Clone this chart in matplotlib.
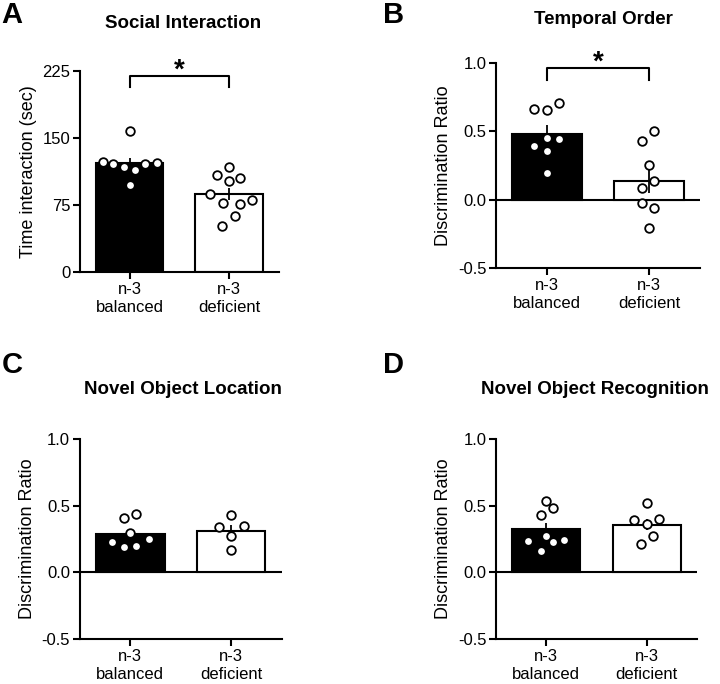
import matplotlib
matplotlib.use("Agg")
import matplotlib.pyplot as plt
import numpy as np

plt.rcParams['font.family'] = ['Liberation Sans', 'DejaVu Sans']

groups = ["n-3\nbalanced", "n-3\ndeficient"]

# A: social interaction time (sec)
si_bal = [123, 121, 117.5, 114, 121, 122, 157.5, 98]
si_def = [109, 117.5, 105, 102, 88, 78, 76, 81, 63, 52]
# B: temporal order discrimination ratio
to_bal = [0.666, 0.659, 0.707, 0.451, 0.395, 0.446, 0.359, 0.195]
to_def = [0.427, 0.505, 0.251, 0.139, 0.083, -0.024, -0.059, -0.21]
# C: novel object location
nol_bal = [0.405, 0.437, 0.298, 0.228, 0.248, 0.188, 0.198]
nol_def = [0.43, 0.338, 0.35, 0.273, 0.168]
# D: novel object recognition
nor_bal = [0.538, 0.483, 0.43, 0.275, 0.238, 0.243, 0.23, 0.16]
nor_def = [0.518, 0.393, 0.40, 0.363, 0.273, 0.21]

# horizontal scatter offsets of the dots
si_bal_dx = [-0.27, -0.165, -0.056, 0.056, 0.158, 0.274, 0, 0]
si_def_dx = [-0.125, 0, 0.116, 0, -0.188, -0.06, 0.11, 0.23, 0.056, -0.067]
to_bal_dx = [-0.123, 0, 0.12, 0, -0.123, 0.12, 0, 0]
to_def_dx = [-0.071, 0.048, 0, 0.048, -0.065, -0.065, 0.048, 0]
nol_bal_dx = [-0.063, 0.056, 0, -0.18, 0.183, -0.063, 0.056]
nol_def_dx = [0, -0.12, 0.126, 0, 0]
nor_bal_dx = [0, 0.066, -0.056, 0, -0.178, 0.18, 0.066, -0.056]
nor_def_dx = [0, -0.125, 0.125, 0, 0.06, -0.06]

panels = [
    dict(letter="A", title="Social Interaction", bal=si_bal, dfc=si_def,
         bdx=si_bal_dx, ddx=si_def_dx, ylim=(0, 225), yticks=[0, 75, 150, 225],
         ylabel="Time interaction (sec)", sig=(219, 207),
         rect=[0.111, 0.602, 0.276, 0.294], title_xy=(0.254, 0.966),
         letter_xy=(0.002, 0.978)),
    dict(letter="B", title="Temporal Order", bal=to_bal, dfc=to_def,
         bdx=to_bal_dx, ddx=to_def_dx, ylim=(-0.5, 1.0), yticks=[-0.5, 0, 0.5, 1.0],
         ylabel="Discrimination Ratio", sig=(0.963, 0.878),
         rect=[0.689, 0.608, 0.283, 0.2997], title_xy=(0.838, 0.972),
         letter_xy=(0.532, 0.978)),
    dict(letter="C", title="Novel Object Location", bal=nol_bal, dfc=nol_def,
         bdx=nol_bal_dx, ddx=nol_def_dx, ylim=(-0.5, 1.0), yticks=[-0.5, 0, 0.5, 1.0],
         ylabel="Discrimination Ratio", sig=None,
         rect=[0.111, 0.0658, 0.28, 0.292], title_xy=(0.254, 0.43),
         letter_xy=(0.002, 0.466)),
    dict(letter="D", title="Novel Object Recognition", bal=nor_bal, dfc=nor_def,
         bdx=nor_bal_dx, ddx=nor_def_dx, ylim=(-0.5, 1.0), yticks=[-0.5, 0, 0.5, 1.0],
         ylabel="Discrimination Ratio", sig=None,
         rect=[0.689, 0.0658, 0.279, 0.292], title_xy=(0.826, 0.43),
         letter_xy=(0.532, 0.466)),
]

fig = plt.figure(figsize=(7.2, 6.84), dpi=100)

for p in panels:
    ax = fig.add_axes(p["rect"])
    data = [np.array(p["bal"]), np.array(p["dfc"])]
    means = [d.mean() for d in data]
    sems = [d.std(ddof=1) / np.sqrt(len(d)) for d in data]
    x = np.arange(2)
    ax.bar(x, means, width=0.68, color=["black", "white"], edgecolor="black",
           linewidth=1.5, zorder=2)
    ax.errorbar(x, means, yerr=sems, fmt="none", ecolor="black", elinewidth=1.3,
                capsize=0, zorder=3)
    for i, (d, dx) in enumerate(zip(data, [p["bdx"], p["ddx"]])):
        ax.plot(i + np.array(dx), d, "o", ms=6.2, mfc="white", mec="black",
                mew=1.3, zorder=4, clip_on=False)
    if p["ylim"][0] < 0:
        ax.axhline(0, color="black", lw=1.5, zorder=1)
    if p["sig"] is not None:
        top, leg = p["sig"]
        ax.plot([0, 0, 1, 1], [leg, top, top, leg], color="black", lw=1.5,
                clip_on=False)
        span = p["ylim"][1] - p["ylim"][0]
        ax.text(0.5, top - span * 0.035, "*", ha="center", va="bottom",
                fontsize=20, fontweight="bold")
    ax.set_xlim(-0.5, 1.5)
    ax.set_ylim(*p["ylim"])
    ax.set_yticks(p["yticks"])
    ax.set_yticklabels([f"{t:g}" if p["letter"] == "A" else f"{t:.1f}"
                        for t in p["yticks"]])
    ax.set_xticks(x)
    ax.set_xticklabels(groups, linespacing=1.25)
    ax.set_ylabel(p["ylabel"], fontsize=13)
    for s in ["top", "right"]:
        ax.spines[s].set_visible(False)
    for s in ["left", "bottom"]:
        ax.spines[s].set_linewidth(1.5)
    ax.tick_params(axis="both", labelsize=12, width=1.5, length=5, pad=2)
    fig.text(*p["title_xy"], p["title"], ha="center", va="center",
             fontsize=13.5, fontweight="bold")
    fig.text(*p["letter_xy"], p["letter"], ha="left", va="center",
             fontsize=21, fontweight="bold")

fig.savefig("out.png", dpi=100)
